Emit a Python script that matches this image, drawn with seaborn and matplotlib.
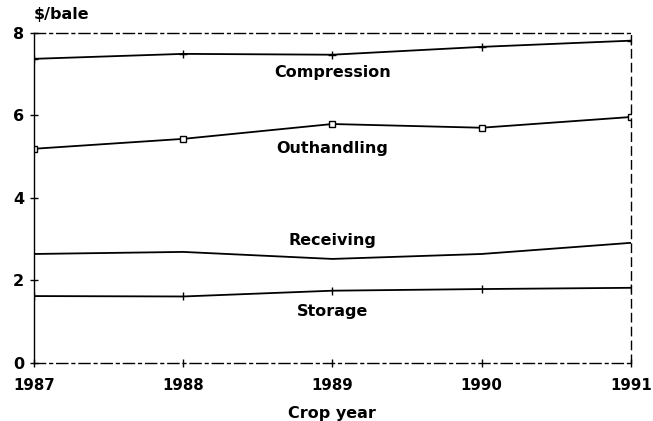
import matplotlib
matplotlib.use("Agg")
import matplotlib.pyplot as plt
import seaborn as sns
import pandas as pd

years = [1987, 1988, 1989, 1990, 1991]
compression = [7.37, 7.49, 7.47, 7.66, 7.81]
outhandling = [5.19, 5.43, 5.79, 5.70, 5.96]
receiving = [2.64, 2.69, 2.52, 2.64, 2.91]
storage = [1.62, 1.61, 1.75, 1.79, 1.82]
series_names = ["Compression", "Outhandling", "Receiving", "Storage"]
label_y = [7.03, 5.19, 2.96, 1.24]
y_ticks = [0, 2, 4, 6, 8]

sns.set_theme(style="white")
plt.rcParams['font.family'] = ['DejaVu Sans']
plt.rcParams['text.color'] = 'black'
plt.rcParams['axes.labelcolor'] = 'black'

fig = plt.figure(figsize=(6.53, 4.21), dpi=100)
ax = fig.add_axes([0.052, 0.138, 0.914, 0.784])

values = [compression, outhandling, receiving, storage]
markers = ["+", "s", None, "|"]
for name, vals, mk in zip(series_names, values, markers):
    df = pd.DataFrame({"year": years, "value": vals})
    kw = {}
    if mk is not None:
        kw = dict(marker=mk, markersize=6 if mk != "s" else 5,
                  markerfacecolor="white" if mk == "s" else "black",
                  markeredgecolor="black", markeredgewidth=1.0)
    sns.lineplot(data=df, x="year", y="value", ax=ax, color="black",
                 linewidth=1.3, **kw)

for name, ly in zip(series_names, label_y):
    ax.text(1989, ly, name, ha="center", va="center", fontsize=11.5,
            fontweight="bold", color="black")

ax.set_xlim(1987, 1991)
ax.set_ylim(0, 8)
ax.set_xticks(years)
ax.set_xticklabels([str(y) for y in years], fontsize=10.8, fontweight="bold")
ax.set_yticks(y_ticks)
ax.set_yticklabels([str(t) for t in y_ticks], fontsize=11.5, fontweight="bold")
ax.set_xlabel("Crop year", fontsize=11.5, fontweight="bold", labelpad=9,
              color="black")
ax.set_ylabel("")
ax.text(0.0, 1.055, "\\$/bale", transform=ax.transAxes, ha="left", va="center",
        fontsize=11.5, fontweight="bold", color="black")

for side in ["left", "right", "top", "bottom"]:
    ax.spines[side].set_color("black")
    ax.spines[side].set_linewidth(1.0)
ax.spines["top"].set_linestyle((0, (8, 3, 2, 3)))
ax.spines["bottom"].set_linestyle((0, (8, 3, 2, 3)))
ax.spines["right"].set_linestyle((0, (6, 4)))
ax.tick_params(axis="x", which="both", direction="inout", length=6,
               width=1.0, colors="black", pad=8, bottom=True)
ax.tick_params(axis="y", which="both", direction="inout", length=6,
               width=1.0, colors="black", pad=4, left=True)
ax.grid(False)

fig.savefig("out.png", dpi=100, facecolor="white")
